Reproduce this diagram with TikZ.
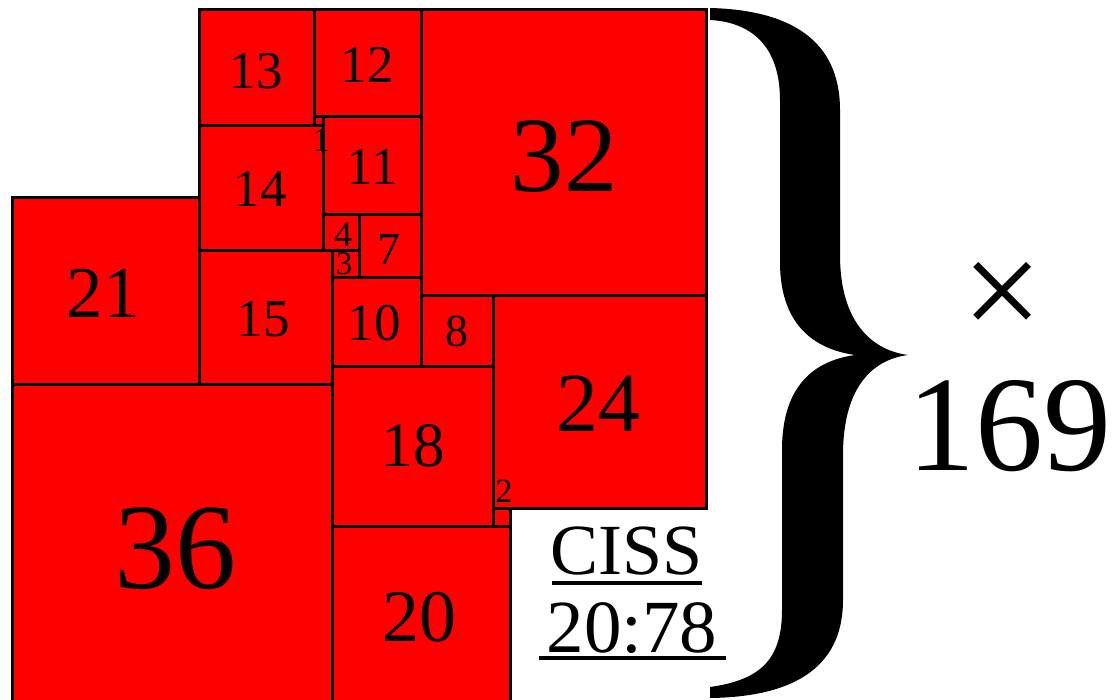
\documentclass[tikz,border=0pt]{standalone}
\usepackage{fontspec}
\setmainfont{Liberation Serif}
\newcommand\sqlabel[5]{\node[lab, font=\fontsize{#4}{#4}\selectfont] (#5) at (#1,#2) {#3};}
\newcommand\tile[3]{\draw[tilestyle] (#1,#2) rectangle ++(#3,#3);}
\begin{document}
\begin{tikzpicture}[x=1pt, y=-1pt,
  tilestyle/.style={fill=red, draw=black, line width=3pt},
  lab/.style={anchor=base, inner sep=0pt, text=black}]
\clip (0,0) rectangle (1112,700);
\fill[white] (0,0) rectangle (1112,700);
\begin{scope}[shift={(12,10)}, x=8.91pt, y=-8.91pt]
\tile{0}{42}{36}
\tile{0}{21}{21}
\tile{21}{27}{15}
\tile{21}{13}{14}
\tile{21}{0}{13}
\tile{34}{0}{12}
\tile{46}{0}{32}
\tile{34}{12}{1}
\tile{35}{12}{11}
\tile{35}{23}{4}
\tile{39}{23}{7}
\tile{36}{27}{3}
\tile{36}{30}{10}
\tile{46}{32}{8}
\tile{54}{32}{24}
\tile{36}{40}{18}
\tile{54}{56}{2}
\tile{36}{58}{20}
\end{scope}
\sqlabel{175}{588}{36}{122}{l36}
\sqlabel{564}{192}{32}{107}{l32}
\sqlabel{598}{432}{24}{84}{l24}
\sqlabel{103}{318}{21}{73}{l21}
\sqlabel{419}{641}{20}{74}{l20}
\sqlabel{413}{467}{18}{63}{l18}
\sqlabel{263}{337}{15}{53}{l15}
\sqlabel{260}{207}{14}{53}{l14}
\sqlabel{256}{89}{13}{53}{l13}
\sqlabel{367}{83}{12}{53}{l12}
\sqlabel{372}{185}{11}{53}{l11}
\sqlabel{374}{341}{10}{53}{l10}
\sqlabel{457}{347}{8}{46}{l8}
\sqlabel{389}{265}{7}{46}{l7}
\sqlabel{343}{247}{4}{36}{l4}
\sqlabel{344}{275}{3}{33}{l3}
\sqlabel{504}{503}{2}{34}{l2}
\sqlabel{321}{152}{1}{34}{l1}
% caption
\node[lab, font=\fontsize{72}{72}\selectfont] (ciss) at (627,575) {CISS};
\node[lab, font=\fontsize{75}{75}\selectfont] (order) at (632,652) {20:78};
\draw[line width=4pt] (552,583) -- (702,583);
\draw[line width=4pt] (539,658) -- (726,658);
% brace
\fill[black] (710,8) .. controls (790,10) and (840,40) .. (840,110)
  -- (840,255) .. controls (840,320) and (870,350) .. (908,355)
  .. controls (870,360) and (843,390) .. (843,455)
  -- (843,600) .. controls (843,670) and (790,697) .. (710,698)
  -- (710,687) .. controls (760,680) and (782,660) .. (782,610)
  -- (782,450) .. controls (782,380) and (820,360) .. (855,355)
  .. controls (820,350) and (780,330) .. (780,262)
  -- (780,100) .. controls (780,45) and (750,22) .. (710,20) -- cycle;
\node[inner sep=0pt, font=\fontsize{142}{142}\selectfont] (times) at (1003,300) {×};
\node[lab, font=\fontsize{136}{136}\selectfont] (factor) at (1009,471) {169};
\end{tikzpicture}
\end{document}
